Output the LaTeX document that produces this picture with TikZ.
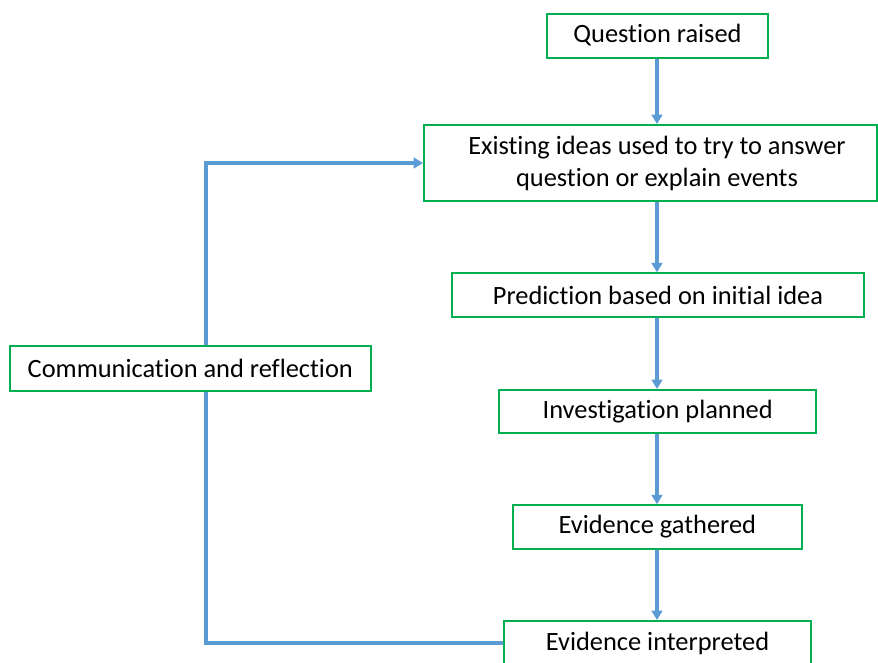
\documentclass[tikz,border=0pt]{standalone}
\usepackage{fontspec}
\setmainfont{Carlito}[Ligatures=NoCommon]
\usetikzlibrary{arrows.meta}
\definecolor{boxgreen}{HTML}{00B050}
\definecolor{linkblue}{HTML}{5B9BD5}
\begin{document}
\begin{tikzpicture}[x=0.75pt,y=-0.75pt,
  box/.style={draw=boxgreen, line width=1.5pt, fill=white, inner sep=0pt, align=center,
    font=\fontsize{19.8}{24}\selectfont},
  txt/.style={inner sep=0pt, align=center, font=\fontsize{19.8}{24}\selectfont},
  link/.style={draw=linkblue, line width=2.4pt},
  arr/.style={link, -{Triangle[width=8pt,length=7pt]}}]
\useasboundingbox (0,0) rectangle (878,662);
\node[box, minimum width=220.5*0.75, minimum height=44*0.75] (q) at (657.5,35.5) {Question raised};
\node[box, minimum width=453*0.75, minimum height=76*0.75] (e) at (650.5,163) {};
\node[txt] (et) at (657,163) {Existing ideas used to try to answer\\question or explain events};
\node[box, minimum width=411.5*0.75, minimum height=44*0.75] (p) at (658,295.3) {Prediction based on initial idea};
\node[box, minimum width=361*0.75, minimum height=44.5*0.75] (c) at (190.3,368.3) {Communication and reflection};
\node[box, minimum width=316.5*0.75, minimum height=43.5*0.75] (i) at (657.7,411.7) {Investigation planned};
\node[box, minimum width=289.5*0.75, minimum height=43.5*0.75] (g) at (657.3,527) {Evidence gathered};
\node[box, minimum width=306.5*0.75, minimum height=44*0.75] (x) at (657.5,643) {Evidence interpreted};
\draw[arr] (q.south -| 657,0) -- (e.north -| 657,0);
\draw[arr] (e.south -| 657,0) -- (p.north -| 657,0);
\draw[arr] (p.south -| 657,0) -- (i.north -| 657,0);
\draw[arr] (i.south -| 657,0) -- (g.north -| 657,0);
\draw[arr] (g.south -| 657,0) -- (x.north -| 657,0);
\draw[link] (x.west) -| (c.south -| 206,0);
\draw[arr] (c.north -| 206,0) |- (e.west);
\end{tikzpicture}
\end{document}
